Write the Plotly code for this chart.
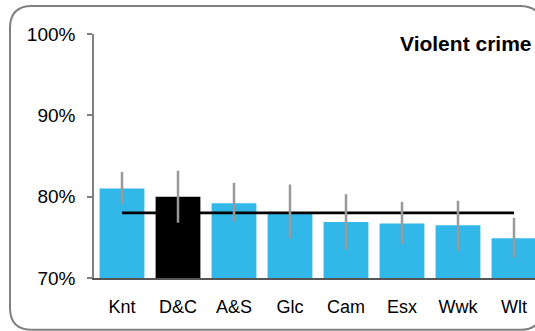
import plotly.graph_objects as go

categories = ["Knt", "D&C", "A&S", "Glc", "Cam", "Esx", "Wwk", "Wlt"]
values = [81.0, 80.0, 79.2, 77.9, 76.9, 76.7, 76.5, 74.9]
upper = [83.05, 83.2, 81.7, 81.5, 80.3, 79.35, 79.5, 77.4]
lower = [79.1, 76.8, 76.9, 74.85, 73.5, 74.15, 73.3, 72.5]
average = [78.0] * len(categories)
bar_colors = ["#32B8E8", "#000000", "#32B8E8", "#32B8E8", "#32B8E8", "#32B8E8", "#32B8E8", "#32B8E8"]
y_ticks = [70, 80, 90, 100]
title_text = "Violent crime"

W, H = 535, 331
# screen-space geometry of plot area
SX0, SX1, SY0, SY1 = 94, 535, 34, 277.7
L = SX0
T = SY0
R = W - SX1
B = H - SY1
pw = SX1 - SX0
ph = SY1 - SY0

err_plus = [u - v for u, v in zip(upper, values)]
err_minus = [v - l for v, l in zip(values, lower)]

fig = go.Figure()
fig.add_trace(go.Bar(x=categories, y=values, marker=dict(color=bar_colors, line=dict(width=0)),
                     width=0.8, showlegend=False, hoverinfo="skip"))
fig.add_trace(go.Scatter(x=categories, y=average, mode="lines",
                         line=dict(color="#000000", width=2.7), showlegend=False, hoverinfo="skip"))
fig.add_trace(go.Scatter(x=categories, y=values, mode="markers", marker=dict(size=0.1, opacity=0),
                         error_y=dict(type="data", array=err_plus, arrayminus=err_minus, symmetric=False,
                                      color="#999999", thickness=2.5, width=0),
                         showlegend=False, hoverinfo="skip"))

# screen pixel coords -> paper coords
def px(x):
    return (x - SX0) / pw
def py(y):
    return (SY1 - y) / ph

x0, x1, y0, y1, r = 10, 542, 6, 329.5, 22
path = (f"M {px(x0+r)},{py(y0)} L {px(x1-r)},{py(y0)} Q {px(x1)},{py(y0)} {px(x1)},{py(y0+r)} "
        f"L {px(x1)},{py(y1-r)} Q {px(x1)},{py(y1)} {px(x1-r)},{py(y1)} "
        f"L {px(x0+r)},{py(y1)} Q {px(x0)},{py(y1)} {px(x0)},{py(y1-r)} "
        f"L {px(x0)},{py(y0+r)} Q {px(x0)},{py(y0)} {px(x0+r)},{py(y0)} Z")
fig.add_shape(type="path", path=path, xref="paper", yref="paper",
              line=dict(color="#808080", width=2), fillcolor="rgba(0,0,0,0)", layer="below")

fig.add_annotation(text="<b>" + title_text + "</b>", xref="paper", yref="paper",
                   x=px(534), y=py(43), xanchor="right", yanchor="middle", showarrow=False,
                   font=dict(family="Liberation Sans, Arial", size=21, color="#000000"))

fig.update_layout(
    width=W, height=H,
    margin=dict(l=L, r=R, t=T, b=B, pad=0),
    paper_bgcolor="white", plot_bgcolor="white",
    font=dict(family="Liberation Sans, Arial", color="#000000"),
    xaxis=dict(type="category", range=[-0.5, 7.375], showgrid=False, zeroline=False,
               showline=True, linecolor="#555555", linewidth=1.5, ticks="",
               tickfont=dict(size=18), ticklabelstandoff=12),
    yaxis=dict(range=[70, 100], tickvals=y_ticks, ticktext=[f"{v}%" for v in y_ticks],
               showgrid=False, zeroline=False, showline=True, linecolor="#808080", linewidth=1.5,
               ticks="outside", ticklen=5, tickcolor="#808080", tickwidth=1.5,
               tickfont=dict(size=19), ticklabelstandoff=8),
)

fig.write_html("out.html", config={"displayModeBar": False},
               post_script="document.body.style.margin='0px';document.body.style.overflow='hidden';")
